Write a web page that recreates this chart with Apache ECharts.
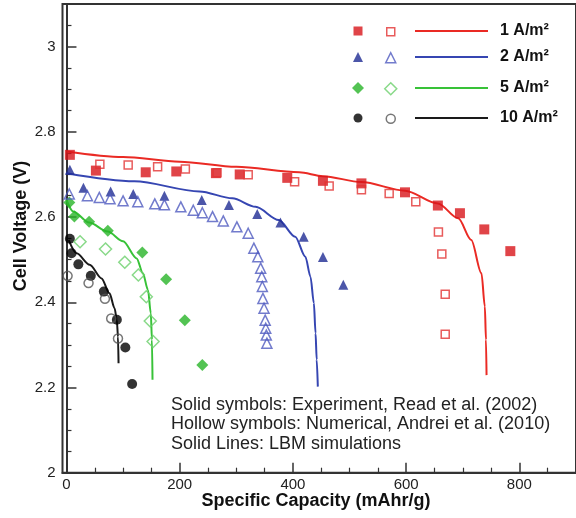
<!DOCTYPE html>
<html><head><meta charset="utf-8">
<script src="https://cdn.jsdelivr.net/npm/echarts@6/dist/echarts.min.js"></script>
<style>html,body{margin:0;padding:0;background:#fff}#c{width:576px;height:518px}</style>
</head><body><div id="c"></div>
<script>
// ---------- data ----------
const currentLabels = ['1 A/m²', '2 A/m²', '5 A/m²', '10 A/m²'];

const cap1Exp = [6, 52, 140, 194, 264, 306, 390, 453, 521, 598, 656, 695, 738, 784];
const v1Exp   = [2.746, 2.709, 2.705, 2.707, 2.703, 2.700, 2.692, 2.685, 2.679, 2.658, 2.627, 2.609, 2.571, 2.520];
const cap1Num = [59, 109, 161, 210, 266, 321, 403, 464, 521, 570, 617, 657, 663, 669, 669];
const v1Num   = [2.724, 2.722, 2.718, 2.713, 2.704, 2.699, 2.683, 2.673, 2.664, 2.655, 2.636, 2.565, 2.513, 2.419, 2.325];
const cap1Lbm = [0, 100, 200, 300, 411, 453, 521, 598, 656, 692, 715, 733, 739, 741, 742];
const v1Lbm   = [2.754, 2.741, 2.730, 2.718, 2.705, 2.696, 2.682, 2.662, 2.632, 2.597, 2.546, 2.468, 2.390, 2.312, 2.229];

const cap2Exp = [6, 30, 78, 118, 173, 239, 287, 337, 378, 419, 453, 489];
const v2Exp   = [2.711, 2.669, 2.660, 2.654, 2.650, 2.640, 2.628, 2.607, 2.587, 2.554, 2.506, 2.441];
const cap2Num = [5, 37, 58, 77, 100, 126, 156, 173, 202, 224, 240, 258, 277, 301, 321, 331, 338, 343, 345, 346, 347, 349, 351, 352, 353, 354];
const v2Num   = [2.654, 2.650, 2.646, 2.643, 2.638, 2.636, 2.631, 2.629, 2.624, 2.616, 2.610, 2.601, 2.591, 2.577, 2.562, 2.527, 2.507, 2.480, 2.460, 2.437, 2.409, 2.386, 2.358, 2.339, 2.323, 2.304];
const cap2Lbm = [0, 120, 235, 293, 334, 375, 404, 422, 431, 437, 440, 442, 444];
const v2Lbm   = [2.703, 2.684, 2.660, 2.644, 2.624, 2.593, 2.554, 2.507, 2.460, 2.398, 2.327, 2.265, 2.202];

const cap5Exp = [5, 14, 40, 73, 134, 176, 209, 240];
const v5Exp   = [2.634, 2.601, 2.589, 2.568, 2.517, 2.454, 2.358, 2.253];
const cap5Num = [24, 69, 103, 127, 141, 148, 153];
const v5Num   = [2.542, 2.525, 2.494, 2.464, 2.413, 2.356, 2.308];
const cap5Lbm = [0, 12, 40, 73, 100, 124, 135, 144, 149, 151, 152];
const v5Lbm   = [2.640, 2.613, 2.587, 2.566, 2.543, 2.503, 2.468, 2.429, 2.374, 2.312, 2.218];

const cap10Exp = [6, 9, 21, 43, 66, 89, 104, 116];
const v10Exp   = [2.549, 2.515, 2.489, 2.462, 2.425, 2.359, 2.294, 2.208];
const cap10Num = [2, 39, 68, 79, 91];
const v10Num   = [2.462, 2.445, 2.408, 2.362, 2.315];
const cap10Lbm = [4, 18, 41, 62, 76, 85, 89, 91, 92];
const v10Lbm   = [2.546, 2.515, 2.488, 2.456, 2.421, 2.386, 2.358, 2.319, 2.257];

const xMajorTicks = [0, 200, 400, 600, 800];
const xMinorTicks = [50, 100, 150, 250, 300, 350, 450, 500, 550, 650, 700, 750, 850];
const yMajorTicks = [2, 2.2, 2.4, 2.6, 2.8, 3];
const yMinorTicks = [2.05, 2.1, 2.15, 2.25, 2.3, 2.35, 2.45, 2.5, 2.55, 2.65, 2.7, 2.75, 2.85, 2.9, 2.95, 3.05];

const xTitle = 'Specific Capacity (mAhr/g)';
const yTitle = 'Cell Voltage (V)';
const notes = ['Solid symbols: Experiment, Read et al. (2002)',
               'Hollow symbols: Numerical, Andrei et al. (2010)',
               'Solid Lines: LBM simulations'];

// ---------- styling ----------
const FONT = '"Liberation Sans", Arial, sans-serif';
const groups = [
  {exp: [cap1Exp, v1Exp], num: [cap1Num, v1Num], lbm: [cap1Lbm, v1Lbm], symbol: 'rect', sSize: 10, hSize: 8, lgS: 9, lgH: 8,
   solid: '#d8151a', hollow: '#e23232', line: '#ea2a24'},
  {exp: [cap2Exp, v2Exp], num: [cap2Num, v2Num], lbm: [cap2Lbm, v2Lbm], symbol: 'triangle', sSize: 10, hSize: 10, lgS: 10, lgH: 10,
   solid: '#1f2c94', hollow: '#4f5abf', line: '#3646b2'},
  {exp: [cap5Exp, v5Exp], num: [cap5Num, v5Num], lbm: [cap5Lbm, v5Lbm], symbol: 'diamond', sSize: 12, hSize: 12, lgS: 12, lgH: 12,
   solid: '#28b428', hollow: '#6ccf6c', line: '#38c238'},
  {exp: [cap10Exp, v10Exp], num: [cap10Num, v10Num], lbm: [cap10Lbm, v10Lbm], symbol: 'circle', sSize: 10, hSize: 9, lgS: 9, lgH: 9,
   solid: '#000000', hollow: '#555555', line: '#1a1a1a'}
];
const zip = (a, b) => a.map((v, i) => [v, b[i]]);

const series = [];
groups.forEach((g, i) => {
  series.push({name: 'lbm' + i, type: 'line', data: zip(g.lbm[0], g.lbm[1]), symbol: 'none',
    smooth: 0.3, smoothMonotone: 'x', lineStyle: {color: g.line, width: 2}, itemStyle: {color: g.line}, z: 2, silent: true});
});
groups.forEach((g, i) => {
  series.push({name: 'exp' + i, type: 'scatter', data: zip(g.exp[0], g.exp[1]), symbol: g.symbol, symbolSize: g.sSize,
    itemStyle: {color: g.solid}, z: 3, silent: true});
  series.push({name: 'num' + i, type: 'scatter', data: zip(g.num[0], g.num[1]), symbol: g.symbol, symbolSize: g.hSize,
    itemStyle: {color: 'rgba(0,0,0,0)', borderColor: g.hollow, borderWidth: 1.5}, z: 4, silent: true});
});

// legend rows (layout)
const rowY = [31, 57, 88, 118];
const legends = [];
groups.forEach((g, i) => {
  const y = rowY[i];
  legends.push({left: 358 - g.lgS / 2, top: y - g.lgS / 2, padding: 0, itemWidth: g.lgS, itemHeight: g.lgS, selectedMode: false,
    data: [{name: 'exp' + i}], formatter: () => '', textStyle: {fontSize: 6, lineHeight: g.lgS}});
  legends.push({left: 390 - g.lgH / 2, top: y - g.lgH / 2, padding: 0, itemWidth: g.lgH, itemHeight: g.lgH, selectedMode: false,
    data: [{name: 'num' + i, itemStyle: {color: 'rgba(0,0,0,0)', borderColor: g.hollow, borderWidth: 1.5}}],
    formatter: () => '', textStyle: {fontSize: 6, lineHeight: g.lgH}});
  legends.push({left: 415, top: y - 8, padding: 0, itemWidth: 73, itemHeight: 2, selectedMode: false, icon: 'rect',
    data: [{name: 'lbm' + i, itemStyle: {color: g.line}}], formatter: () => currentLabels[i],
    textStyle: {fontSize: 16, fontWeight: 'bold', lineHeight: 16, color: '#111', fontFamily: FONT, padding: [0, 0, 0, 7]}});
});

const axisCol = '#333';
const option = {
  animation: false,
  backgroundColor: '#fff',
  grid: {left: 62.5, right: -3, top: 4, bottom: 45.3, show: true, borderColor: axisCol, borderWidth: 2, containLabel: false},
  legend: legends,
  xAxis: [
    {type: 'value', min: -7, max: 900, position: 'bottom',
     axisLine: {show: true, lineStyle: {color: axisCol, width: 2}},
     axisTick: {show: true, inside: true, length: 10, customValues: xMajorTicks, lineStyle: {color: axisCol, width: 1.5}},
     axisLabel: {customValues: xMajorTicks, margin: 5, fontSize: 15, color: '#222', fontFamily: FONT},
     splitLine: {show: false}},
    {type: 'value', min: -7, max: 900, position: 'bottom',
     axisLine: {show: false},
     axisTick: {show: true, inside: true, length: 5, customValues: xMinorTicks, lineStyle: {color: axisCol, width: 1.2}},
     axisLabel: {show: false}, splitLine: {show: false}}
  ],
  yAxis: [
    {type: 'value', min: 2, max: 3.1, position: 'left',
     axisLine: {show: true, lineStyle: {color: axisCol, width: 2}},
     axisTick: {show: true, inside: true, length: 10, customValues: yMajorTicks, lineStyle: {color: axisCol, width: 1.5}},
     axisLabel: {customValues: yMajorTicks, margin: 7, fontSize: 15, color: '#222', fontFamily: FONT},
     splitLine: {show: false}},
    {type: 'value', min: 2, max: 3.1, position: 'left',
     axisLine: {show: false},
     axisTick: {show: true, inside: true, length: 5, customValues: yMinorTicks, lineStyle: {color: axisCol, width: 1.2}},
     axisLabel: {show: false}, splitLine: {show: false}}
  ],
  graphic: [
    {type: 'text', left: 171, top: 395, style: {text: notes.join('\n'), font: '18px ' + FONT, lineHeight: 19.5, fill: '#222'}, z: 10},
    {type: 'text', x: 316, y: 501, style: {text: xTitle, font: 'bold 18px ' + FONT, fill: '#111', align: 'center', verticalAlign: 'middle'}},
    {type: 'text', x: 21, y: 226, rotation: Math.PI / 2, style: {text: yTitle, font: 'bold 18px ' + FONT, fill: '#111', align: 'center', verticalAlign: 'middle'}}
  ],
  series: series
};
const chart = echarts.init(document.getElementById('c'), null, {renderer: 'canvas'});
chart.setOption(option);
</script></body></html>
